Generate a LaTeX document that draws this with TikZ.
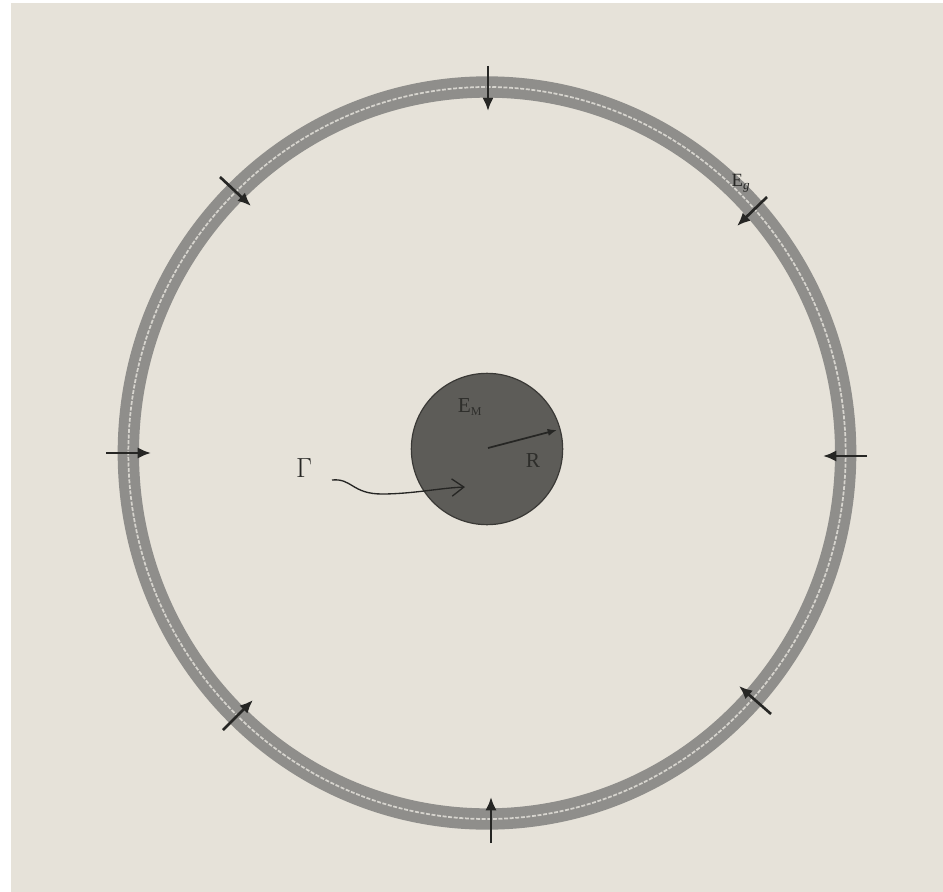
\documentclass[tikz,border=0pt]{standalone}
\usepackage{fontspec}
\setmainfont{Liberation Serif}
\usetikzlibrary{arrows.meta}
\definecolor{paper}{HTML}{E6E2D9}
\definecolor{ringgray}{HTML}{8F8E8B}
\definecolor{ringlight}{HTML}{D6D4CE}
\definecolor{discfill}{HTML}{5D5C58}
\definecolor{discedge}{HTML}{3A3936}
\definecolor{ink}{HTML}{262624}
\begin{document}
\begin{tikzpicture}[x=0.75pt,y=-0.75pt,
  inarrow/.style={draw=ink,line width=2pt,-{Latex[length=10pt,width=8.5pt]}},
  lbl/.style={text=ink,inner sep=0pt},
  disclbl/.style={text=discedge!80!black,inner sep=0pt}]
\useasboundingbox (0,0) rectangle (943,892);
\fill[white] (0,0) rectangle (943,892);
\fill[paper] (11,3) rectangle (943,892);
% ring
\draw[ringgray,line width=16pt] (487,453) ellipse [x radius=269pt, y radius=274.5pt];
\draw[ringlight,line width=1.3pt,dash pattern=on 3pt off 1.2pt] (487,453) ellipse [x radius=269pt, y radius=274.5pt];
% inner disc
\node[circle,draw=discedge,line width=0.9pt,fill=discfill,minimum size=113.5pt,inner sep=0pt] (disc) at (487,449) {};
\coordinate (rs) at (488,448);
\coordinate (re) at (557,430);
\draw[draw=ink,line width=1.3pt,-{Latex[length=7pt,width=5.5pt]}] (rs) -- (re);
\node[disclbl,font=\fontsize{16}{16}\selectfont] (em) at (470,407) {E\textsubscript{\fontsize{9}{9}\selectfont M}};
\node[disclbl,font=\fontsize{16}{16}\selectfont] (r) at (533,461) {R};
% Gamma
\node[lbl,font=\fontsize{20}{20}\selectfont] (gam) at (304,468) {$\Gamma$};
\coordinate (gs) at (332,480);
\coordinate (ge) at (465,487);
\draw[draw=ink,line width=1pt,-{Straight Barb[length=9pt,width=13pt]}] (gs) .. controls (352,478) and (352,494) .. (382,494) .. controls (412,494) and (440,488) .. (ge);
% E_g
\node[lbl,font=\fontsize{14}{14}\selectfont] (eg) at (741,183) {E\textsubscript{\itshape g}};
% inward arrows
\coordinate (a1s) at (488,66);  \coordinate (a1e) at (488,111);
\coordinate (a2s) at (491,843); \coordinate (a2e) at (491,797);
\coordinate (a3s) at (106,453); \coordinate (a3e) at (151,453);
\coordinate (a4s) at (867,456); \coordinate (a4e) at (823,456);
\coordinate (a5s) at (220,177); \coordinate (a5e) at (251,206);
\coordinate (a6s) at (223,730); \coordinate (a6e) at (253,700);
\coordinate (a7s) at (771,714); \coordinate (a7e) at (739,686);
\coordinate (a8s) at (767,197); \coordinate (a8e) at (737,226);
\foreach \i in {1,...,8} {\draw[inarrow] (a\i s) -- (a\i e);}
\end{tikzpicture}
\end{document}
